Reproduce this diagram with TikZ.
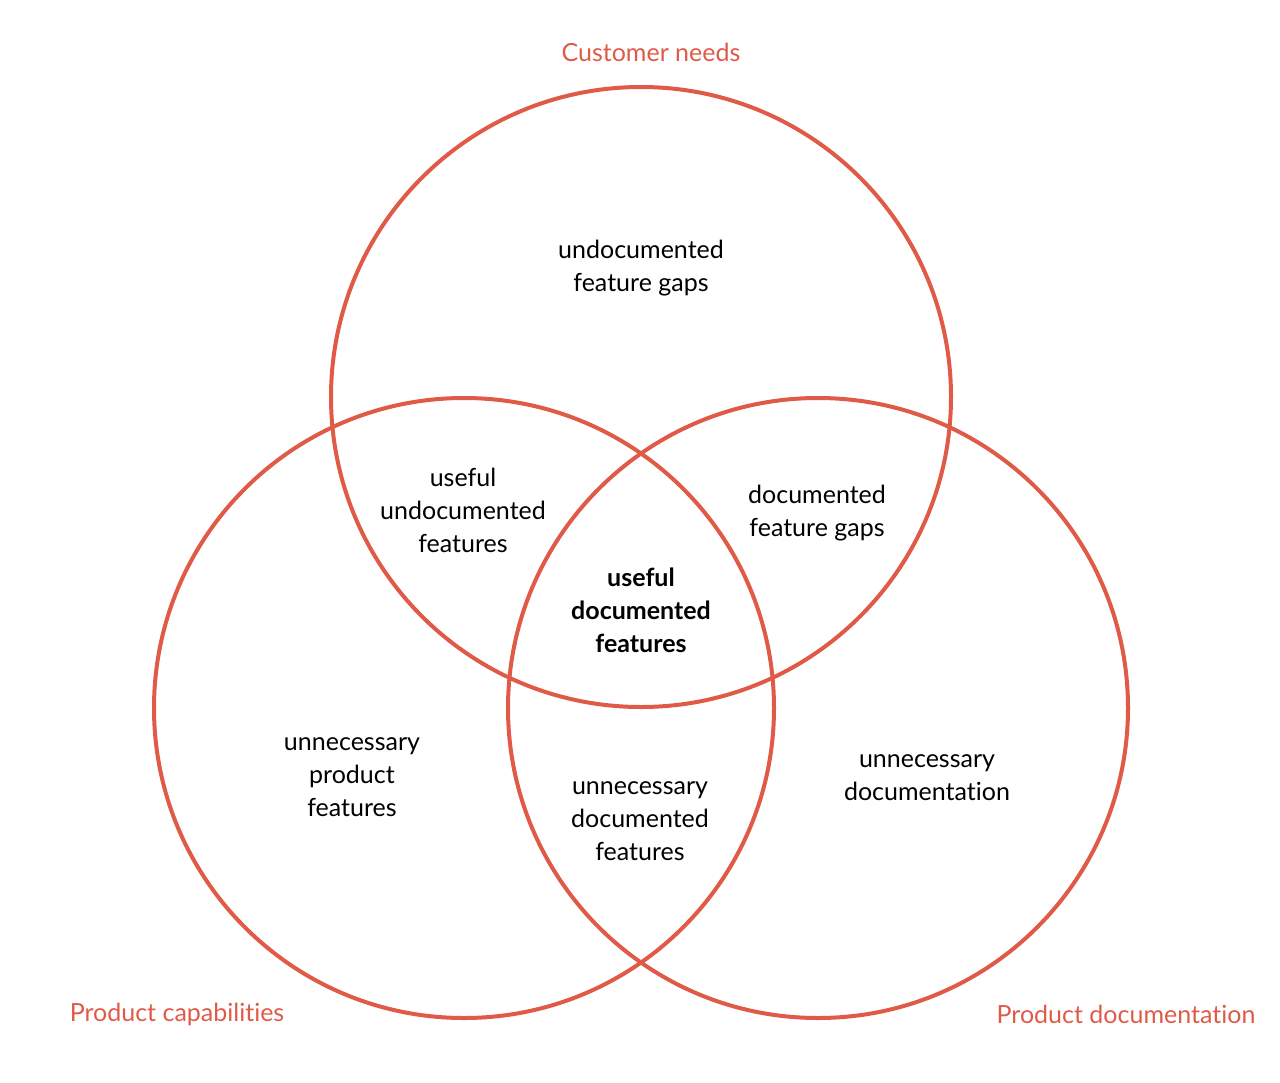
\documentclass[tikz,border=0pt]{standalone}
\usepackage{fontspec}
\setmainfont[Ligatures={NoCommon}]{Lato}
\usepackage{xcolor}
\usetikzlibrary{positioning, calc}
\definecolor{vennred}{HTML}{E05A48}

\begin{document}
\begin{tikzpicture}[x=1pt, y=-1pt,
    ring/.style={draw=vennred, line width=4pt},
    region/.style={align=center, font=\fontsize{25}{33}\selectfont},
    setlabel/.style={text=vennred, font=\fontsize{25}{33}\selectfont}]
    \useasboundingbox (0,0) rectangle (1280,1082);
    \draw[ring] (641,397) circle[radius=310pt];
    \draw[ring] (464,708) circle[radius=310pt];
    \draw[ring] (818,708) circle[radius=310pt];
    \node[setlabel] (needs) at (651,52) {Customer needs};
    \node[setlabel] (capab) at (177,1014) {Product capabilities};
    \node[setlabel] (docs) at (1126,1014) {Product documentation};
    \node[region] (gaps) at (641,268) {undocumented\\feature gaps};
    \node[region] (useundoc) at (463,510) {useful\\undocumented\\features};
    \node[region] (docgaps) at (817,513) {documented\\feature gaps};
    \node[region, font=\fontsize{25}{33}\selectfont\bfseries] (core) at (641,610) {useful\\documented\\features};
    \node[region] (unprod) at (352,777) {unnecessary\\product\\features};
    \node[region] (undocd) at (640,821) {unnecessary\\documented\\features};
    \node[region] (undocn) at (927,778) {unnecessary\\documentation};
  \end{tikzpicture}
\end{document}
